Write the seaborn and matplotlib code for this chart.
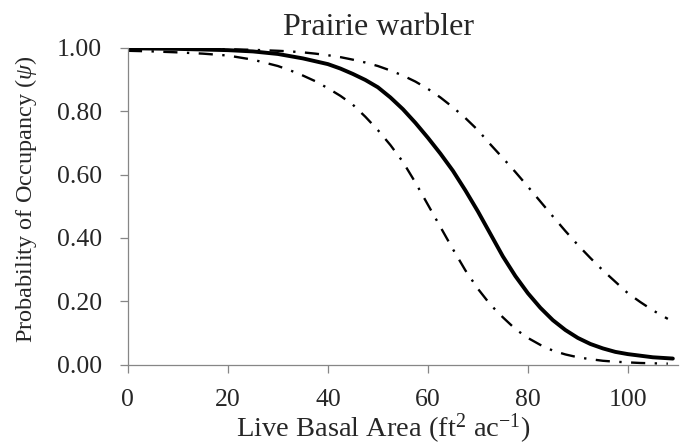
import pandas as pd
import seaborn as sns
import matplotlib.pyplot as plt

# DATA
basal_area = [0, 5, 10, 15, 20, 25, 30, 35, 40, 42.5, 45, 47.5, 50, 52.5, 55, 57.5, 60, 62.5, 65, 67.5,
              70, 72.5, 75, 77.5, 80, 82.5, 85, 87.5, 90, 92.5, 95, 97.5, 100, 105, 109]
psi_mean = [0.998, 0.997, 0.996, 0.994, 0.992, 0.988, 0.980, 0.966, 0.948, 0.934, 0.917, 0.898, 0.875, 0.843,
            0.806, 0.763, 0.716, 0.666, 0.612, 0.550, 0.484, 0.413, 0.342, 0.280, 0.226, 0.180, 0.141, 0.110,
            0.085, 0.066, 0.052, 0.041, 0.034, 0.024, 0.020]

basal_area_ci = [0, 5, 10, 15, 20, 25, 30, 32.5, 35, 37.5, 40, 42.5, 45, 47.5, 50, 52.5, 55, 57.5, 60, 62.5,
                 65, 67.5, 70, 72.5, 75, 77.5, 80, 82.5, 85, 87.5, 90, 92.5, 95, 97.5, 100, 102.5, 105, 108]
psi_upper = [0.995, 0.996, 0.996, 0.996, 0.995, 0.993, 0.990, 0.988, 0.985, 0.981, 0.976, 0.970, 0.962, 0.953,
             0.942, 0.928, 0.912, 0.893, 0.870, 0.843, 0.812, 0.778, 0.740, 0.695, 0.652, 0.608, 0.562, 0.515,
             0.468, 0.422, 0.378, 0.337, 0.298, 0.262, 0.226, 0.198, 0.172, 0.145]
psi_lower = [0.990, 0.988, 0.985, 0.981, 0.975, 0.962, 0.942, 0.928, 0.912, 0.894, 0.872, 0.848, 0.820, 0.782,
             0.740, 0.693, 0.640, 0.575, 0.505, 0.435, 0.365, 0.298, 0.240, 0.190, 0.150, 0.113, 0.085, 0.063,
             0.045, 0.033, 0.024, 0.018, 0.013, 0.010, 0.008, 0.006, 0.005, 0.004]

df_mean = pd.DataFrame({'ba': basal_area, 'psi': psi_mean})
df_ci = pd.DataFrame({'ba': basal_area_ci, 'upper': psi_upper, 'lower': psi_lower})

# STYLE
sns.set_style('white')
plt.rcParams['font.family'] = ['Liberation Serif', 'DejaVu Serif']
plt.rcParams['mathtext.fontset'] = 'custom'
plt.rcParams['mathtext.rm'] = 'Liberation Serif'
plt.rcParams['mathtext.it'] = 'Liberation Serif:italic'

fig = plt.figure(figsize=(6.84, 4.45), dpi=100)
ax = fig.add_axes([0.187, 0.180, 0.804, 0.713])

# LINES
sns.lineplot(data=df_ci, x='ba', y='upper', color='black', linewidth=1.7, ax=ax)
ax.lines[-1].set_dashes((6, 4, 1, 4))
sns.lineplot(data=df_ci, x='ba', y='lower', color='black', linewidth=1.7, ax=ax)
ax.lines[-1].set_dashes((6, 4, 1, 4))
sns.lineplot(data=df_mean, x='ba', y='psi', color='black', linewidth=2.8, ax=ax)

# AXES
ax.set_xlim(0, 110)
ax.set_ylim(0, 1.0)
ax.set_xticks([0, 20, 40, 60, 80, 100])
ax.set_yticks([0, 0.2, 0.4, 0.6, 0.8, 1.0])
ax.set_yticklabels([f'{v:.2f}' for v in [0, 0.2, 0.4, 0.6, 0.8, 1.0]])
sns.despine(ax=ax)
for side in ['left', 'bottom']:
    ax.spines[side].set_color('#868686')
    ax.spines[side].set_linewidth(0.9)
ax.tick_params(axis='both', direction='out', length=6, width=0.9, color='#868686',
               labelsize=18.5, left=True, bottom=True)
ax.tick_params(axis='x', pad=11.5)
ax.tick_params(axis='y', pad=12.5)

ax.set_xlabel('Live Basal Area (ft$^{2}$ ac$^{-1}$)', fontsize=20.5, va='baseline')
ax.xaxis.set_label_coords(0.561, 0.018, transform=fig.transFigure)
ax.set_ylabel(r'Probability of Occupancy ($\psi$)', fontsize=17.5, va='center')
ax.yaxis.set_label_coords(0.038, 0.551, transform=fig.transFigure)
fig.text(0.553, 0.921, 'Prairie warbler', fontsize=23, ha='center', va='baseline')

plt.savefig('out.png', dpi=100)
plt.close()
